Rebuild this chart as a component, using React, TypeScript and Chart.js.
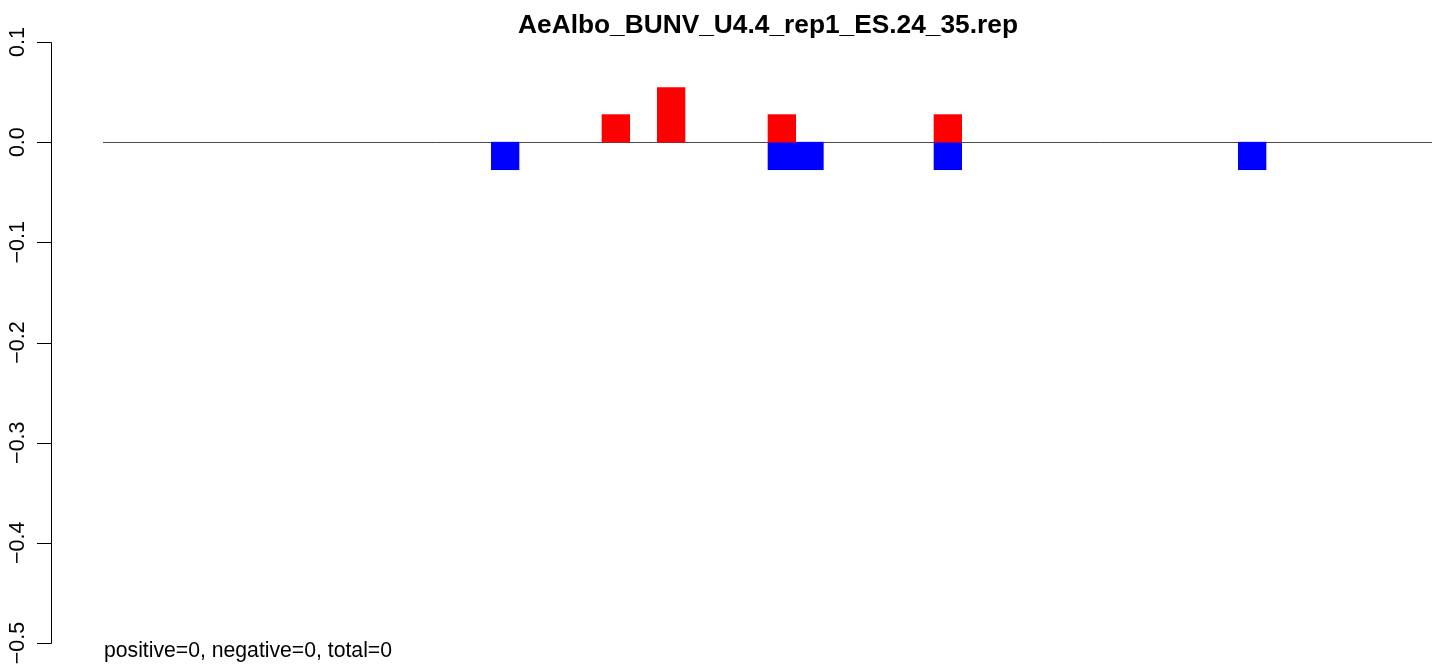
import React, { useEffect, useRef } from "react";
import { Chart, registerables } from "chart.js";

Chart.register(...registerables);

const TITLE = "AeAlbo_BUNV_U4.4_rep1_ES.24_35.rep";
const FOOTNOTE = "positive=0, negative=0, total=0";

// 48 positions along the x axis
const positions: string[] = Array.from({ length: 48 }, (_, i) => String(i + 1));

// positive (red) bars: position index -> value
const redIndex = [18, 20, 24, 30];
const redValues = [0.0275, 0.0545, 0.0275, 0.0275];

// negative (blue) bars: position index -> value
const blueIndex = [14, 24, 25, 30, 41];
const blueValues = [-0.0275, -0.0275, -0.0275, -0.0275, -0.0275];

const yTicks = [0.1, 0.0, -0.1, -0.2, -0.3, -0.4, -0.5];
const yTickLabels = ["0.1", "0.0", "\u22120.1", "\u22120.2", "\u22120.3", "\u22120.4", "\u22120.5"];

const FONT = '"Liberation Sans", Arial, Helvetica, sans-serif';

function fill(idx: number[], vals: number[]): (number | null)[] {
  const arr: (number | null)[] = positions.map(() => null);
  idx.forEach((p, k) => {
    arr[p] = vals[k];
  });
  return arr;
}

const decorPlugin = {
  id: "rdecor",
  beforeDatasetsDraw(chart: any) {
    const { ctx, chartArea, scales } = chart;
    const y0 = scales.y.getPixelForValue(0);
    ctx.save();
    ctx.strokeStyle = "#4a4a4a";
    ctx.lineWidth = 1;
    ctx.beginPath();
    ctx.moveTo(chartArea.left - 1, Math.round(y0) + 0.5);
    ctx.lineTo(chartArea.right, Math.round(y0) + 0.5);
    ctx.stroke();
    ctx.restore();
  },
  afterDraw(chart: any) {
    const { ctx, chartArea, scales } = chart;
    const ys = scales.y;
    const axisX = 51;
    ctx.save();
    ctx.strokeStyle = "#000";
    ctx.lineWidth = 1;
    ctx.beginPath();
    ctx.moveTo(axisX + 0.5, Math.round(ys.getPixelForValue(yTicks[0])) + 0.5);
    ctx.lineTo(axisX + 0.5, Math.round(ys.getPixelForValue(yTicks[yTicks.length - 1])) + 0.5);
    yTicks.forEach((v) => {
      const py = Math.round(ys.getPixelForValue(v)) + 0.5;
      ctx.moveTo(37, py);
      ctx.lineTo(axisX + 0.5, py);
    });
    ctx.stroke();

    ctx.fillStyle = "#000";
    ctx.font = `21.5px ${FONT}`;
    ctx.textAlign = "center";
    ctx.textBaseline = "alphabetic";
    yTicks.forEach((v, i) => {
      const py = ys.getPixelForValue(v);
      ctx.save();
      ctx.translate(24, py);
      ctx.rotate(-Math.PI / 2);
      ctx.fillText(yTickLabels[i], 0, 0);
      ctx.restore();
    });

    ctx.font = `bold 26.3px ${FONT}`;
    ctx.textAlign = "center";
    ctx.fillText(TITLE, (chartArea.left + chartArea.right) / 2, 33);

    ctx.font = `21.2px ${FONT}`;
    ctx.textAlign = "left";
    ctx.fillText(FOOTNOTE, 104, 657);
    ctx.restore();
  },
};

export default function App() {
  const ref = useRef<HTMLCanvasElement | null>(null);

  useEffect(() => {
    document.body.style.margin = "0";
    const canvas = ref.current;
    if (!canvas) return;
    const chart = new Chart(canvas, {
      type: "bar",
      data: {
        labels: positions,
        datasets: [
          {
            label: "positive",
            data: fill(redIndex, redValues),
            backgroundColor: "#ff0000",
            borderWidth: 0,
            barPercentage: 1,
            categoryPercentage: 1,
          },
          {
            label: "negative",
            data: fill(blueIndex, blueValues),
            backgroundColor: "#0000ff",
            borderWidth: 0,
            barPercentage: 1,
            categoryPercentage: 1,
          },
        ],
      },
      options: {
        animation: false,
        responsive: false,
        devicePixelRatio: 1,
        layout: { padding: { left: 104, right: 7, top: 42, bottom: 23 } },
        plugins: {
          legend: { display: false },
          tooltip: { enabled: false },
          title: { display: false },
        },
        scales: {
          x: { display: false, stacked: true, offset: true, grid: { display: false } },
          y: { display: false, stacked: true, min: -0.5, max: 0.1, grid: { display: false } },
        },
      },
      plugins: [decorPlugin],
    });
    return () => chart.destroy();
  }, []);

  return (
    <div style={{ position: "absolute", left: 0, top: 0, width: 1439, height: 666, background: "#fff" }}>
      <canvas ref={ref} width={1439} height={666} style={{ width: 1439, height: 666, display: "block" }} />
    </div>
  );
}
